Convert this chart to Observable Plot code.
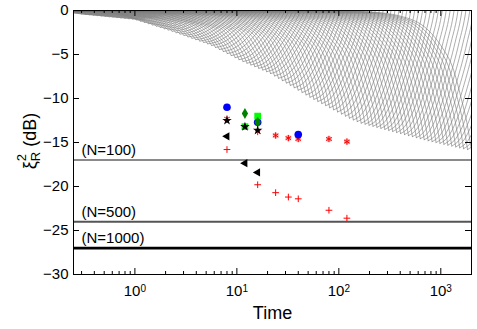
<!DOCTYPE html>
<html><head><meta charset="utf-8">
<script src="https://cdn.jsdelivr.net/npm/d3@7"></script>
<script src="https://cdn.jsdelivr.net/npm/@observablehq/plot@0.6"></script>
<style>
html,body{margin:0;padding:0;background:#fff;}
svg{display:block;}
</style></head><body><div id="chart"></div>
<script>
// ---- reference lines ----
const limitLabels = ["(N=100)", "(N=500)", "(N=1000)"];
const limitValues = [-17, -24, -27];

// ---- measured points (time, dB) ----
const circleT = [8, 16, 40];
const circleDB = [-11.0, -12.7, -14.1];
const diamondT = [12, 16];
const diamondDB = [-11.7, -12.7];
const squareT = [12, 16];
const squareDB = [-13.2, -12.0];
const starT = [8, 12, 16];
const starDB = [-12.5, -13.2, -13.6];
const asteriskT = [8, 16, 24, 32, 40, 80, 120];
const asteriskDB = [-12.3, -13.8, -14.2, -14.5, -14.6, -14.6, -14.9];
const triangleT = [8, 12, 16];
const triangleDB = [-14.3, -17.35, -18.4];
const plusT = [8, 16, 24, 32, 40, 80, 120];
const plusDB = [-15.8, -19.8, -20.7, -21.2, -21.4, -22.7, -23.6];

// ---- gray curve family ----
// lower envelope traced by the curve minima
const envelopeT = [0.3, 1, 2.25, 5.5, 11, 21, 53, 130, 165, 750, 2000];
const envelopeDB = [-0.4, -1.0, -2.3, -3.9, -5.7, -7.1, -9.9, -12.3, -12.8, -14.8, -15.9];
// shape of one curve: time / time-of-minimum  vs  fraction of the minimum depth
const descentRatio = [0.0001, 0.05, 0.1, 0.2, 0.375, 0.5, 0.67, 0.8, 0.9, 1];
const descentDepth = [0, 0.003, 0.01, 0.04, 0.14, 0.25, 0.43, 0.64, 0.8, 1];
const riseRatio = [1, 1.2, 1.5, 1.9, 2.4, 2.8, 3.1];
const riseDepth = [1, 0.95, 0.8, 0.55, 0.25, 0, -0.3];
const curveCount = 100;

// ---- axis ticks ----
const xMajor = [1, 10, 100, 1000];
const xMinor = [0.3,0.4,0.5,0.6,0.7,0.8,0.9,2,3,4,5,6,7,8,9,20,30,40,50,60,70,80,90,200,300,400,500,600,700,800,900];
const yTicks = [-30, -25, -20, -15, -10, -5, 0];

// ---- build tables ----
const envelope = d3.scaleLog().domain(envelopeT).range(envelopeDB);
const curveRows = [];
const lo = Math.log10(envelopeT[0]), hi = Math.log10(envelopeT[envelopeT.length - 1]);
for (let k = 0; k < curveCount; k++) {
  const T = 10 ** (lo + (hi - lo) * k / (curveCount - 1));
  const D = envelope(T);
  descentRatio.forEach((r, i) => curveRows.push({id: "d" + k, t: T * r, db: D * descentDepth[i]}));
  riseRatio.forEach((r, i) => curveRows.push({id: "r" + k, t: T * r, db: D * riseDepth[i]}));
}
const pts = (ts, ds) => ts.map((t, i) => ({t, db: ds[i]}));
const limits = limitValues.map((v, i) => ({value: v, label: limitLabels[i]}));

const triangleLeft = {
  draw(ctx, size) {
    const y = Math.sqrt(size / (Math.sqrt(3) * 3));
    ctx.moveTo(-2 * y, 0);
    ctx.lineTo(y, -Math.sqrt(3) * y);
    ctx.lineTo(y, Math.sqrt(3) * y);
    ctx.closePath();
  }
};

// layout
const W = 477, H = 329, mT = 10, mR = 6, mB = 55, mL = 73;
const frameW = W - mL - mR, frameH = H - mT - mB;
const major = 6, minor = 3;
const tickOpts = {stroke: "#000", strokeWidth: 1};

const font = "'Liberation Sans', Arial, Helvetica, sans-serif";
const plot = Plot.plot({
  width: W, height: H,
  marginTop: mT, marginRight: mR, marginBottom: mB, marginLeft: mL,
  style: {fontFamily: font, fontSize: "15px", background: "#fff", color: "#000"},
  x: {type: "log", domain: [0.25, 2000]},
  y: {domain: [-30, 0]},
  marks: [
    Plot.line(curveRows, {x: "t", y: "db", z: "id", stroke: "#808080", strokeWidth: 0.65, curve: "monotone-x", clip: true}),
    Plot.ruleY([limits[0]], {y: "value", stroke: "#8a8a8a", strokeWidth: 2}),
    Plot.ruleY([limits[1]], {y: "value", stroke: "#555555", strokeWidth: 2}),
    Plot.ruleY([limits[2]], {y: "value", stroke: "#000000", strokeWidth: 2.6}),
    Plot.text(limits, {x: () => 0.25, y: "value", text: "label", textAnchor: "start", lineAnchor: "bottom", dx: 8, dy: -5, fontSize: 15, fill: "#000"}),
    Plot.dot(pts(asteriskT, asteriskDB).slice(2), {x: "t", y: "db", r: 3, fill: "#f6b3b3", stroke: "none"}),
    Plot.dot(pts(asteriskT, asteriskDB), {x: "t", y: "db", symbol: "asterisk", r: 3, stroke: "#ff0000", strokeWidth: 1}),
    Plot.dot(pts(circleT, circleDB), {x: "t", y: "db", symbol: "circle", r: 3.8, fill: "#0000ff", stroke: "none"}),
    Plot.dot(pts(squareT, squareDB), {x: "t", y: "db", symbol: "square", r: 3.8, fill: "#00ff00", stroke: "none"}),
    Plot.dot(pts(diamondT, diamondDB), {x: "t", y: "db", symbol: "diamond", r: 3.3, fill: "#008000", stroke: "none"}),
    Plot.dot(pts(starT, starDB), {x: "t", y: "db", symbol: "star", r: 3, fill: "#000", stroke: "none"}),
    Plot.dot(pts(triangleT, triangleDB), {x: "t", y: "db", symbol: triangleLeft, r: 3.1, fill: "#000", stroke: "none"}),
    Plot.dot(pts(plusT, plusDB), {x: "t", y: "db", symbol: "plus", r: 2.3, stroke: "#ff0000", strokeWidth: 1}),
    // inward box ticks
    Plot.tickX(xMajor, {x: d => d, insetTop: frameH - major, ...tickOpts}),
    Plot.tickX(xMajor, {x: d => d, insetBottom: frameH - major, ...tickOpts}),
    Plot.tickX(xMinor, {x: d => d, insetTop: frameH - minor, ...tickOpts}),
    Plot.tickX(xMinor, {x: d => d, insetBottom: frameH - minor, ...tickOpts}),
    Plot.tickY(yTicks, {y: d => d, insetRight: frameW - major, ...tickOpts}),
    Plot.tickY(yTicks, {y: d => d, insetLeft: frameW - major, ...tickOpts}),
    Plot.frame({stroke: "#000", strokeWidth: 1}),
    Plot.axisX({anchor: "bottom", ticks: xMajor, tickSize: 0, tickPadding: 11, label: null, fontSize: 15,
      tickFormat: d => "10^" + Math.round(Math.log10(d))}),
    Plot.axisY({anchor: "left", ticks: yTicks, tickSize: 0, tickPadding: 5, label: null, fontSize: 15}),
    Plot.text(["Time"], {frameAnchor: "bottom", text: d => d, dy: 44, lineAnchor: "bottom", fontSize: 18, fill: "#000"})
  ]
});
document.getElementById("chart").appendChild(plot);

const svg = d3.select(plot);

// superscript exponents on the x tick labels
svg.selectAll('g[aria-label="x-axis tick label"] text').each(function () {
  const s = this.textContent;
  if (!s.includes("^")) return;
  const [base, exp] = s.split("^");
  const t = d3.select(this);
  t.text(null);
  t.append("tspan").text(base);
  t.append("tspan").attr("dy", "-0.45em").attr("font-size", "10px").text(exp);
});

// y axis label: ξ with superscript 2 and subscript R, then (dB)
const yl = svg.append("text")
  .attr("transform", "translate(36,141) rotate(-90)")
  .attr("text-anchor", "middle")
  .attr("font-family", font)
  .attr("font-size", 18)
  .attr("fill", "#000");
yl.append("tspan").text("ξ");
yl.append("tspan").attr("font-size", 13).attr("dy", -10).text("2");
yl.append("tspan").attr("font-size", 13).attr("dx", -7.2).attr("dy", 14).text("R");
yl.append("tspan").attr("dy", -4).text(" (dB)");
</script>
</body></html>
